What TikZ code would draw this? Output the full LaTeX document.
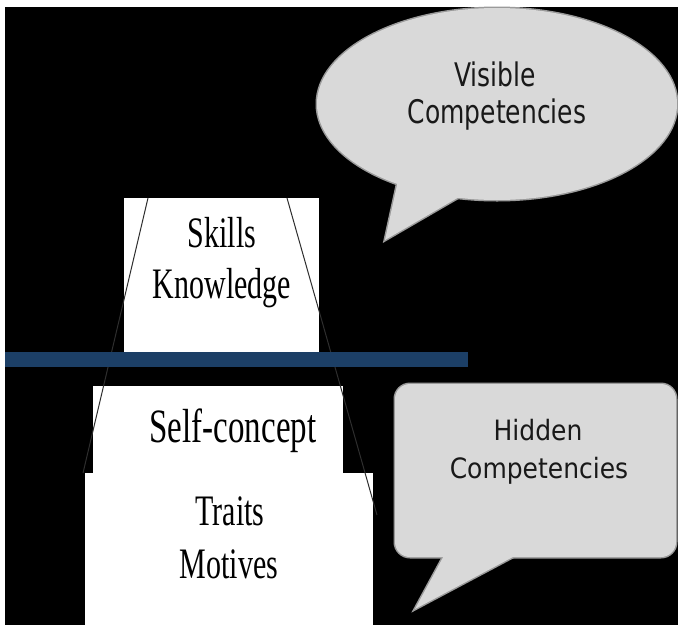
\documentclass[tikz,border=0pt]{standalone}
\usepackage{fontspec}
\setmainfont{Liberation Serif}
\newfontfamily\bubblefont{DejaVu Sans}
\definecolor{barblue}{HTML}{1C3F66}
\definecolor{bubgray}{HTML}{D9D9D9}
\definecolor{bubline}{HTML}{9A9A9A}
\begin{document}
\begin{tikzpicture}[x=1pt,y=-1pt,
  serif/.style={anchor=base, inner sep=0pt, text=black, font=\fontsize{30}{36}\selectfont},
  serifbig/.style={serif, font=\fontsize{33}{40}\selectfont},
  bubtext/.style={anchor=base, inner sep=0pt, text=black!90, font=\bubblefont\fontsize{25}{30}\selectfont},
  edgeline/.style={draw=black!82, line width=1pt},
  bubedge/.style={draw=bubline, line width=3pt},
  bubfill/.style={fill=bubgray},
  paper/.style={fill=white}]
\useasboundingbox (0,0) rectangle (678,625);
\fill[white] (0,0) rectangle (678,625);
\fill[black] (5,7) rectangle (678,625);

% white boxes
\fill[paper] (124,198) rectangle (319,353);
\fill[paper] (93,386) rectangle (343,474);
\fill[paper] (85,473) rectangle (373,625);

% pyramid sides
\coordinate (lt) at (148,198);
\coordinate (lb) at (83,473);
\coordinate (rt) at (287,198);
\coordinate (rb) at (377,515);
\draw[edgeline] (lt) -- (lb);
\draw[edgeline] (rt) -- (rb);

% water line
\fill[barblue] (5,352) rectangle (468,367);

% visible bubble
\draw[bubedge] (497,104) ellipse[x radius=180, y radius=96];
\draw[bubedge] (385,240) -- (399,176) -- (466,193) -- cycle;
\fill[bubfill] (497,104) ellipse[x radius=180, y radius=96];
\fill[bubfill] (385,240) -- (399,176) -- (466,193) -- cycle;

% hidden bubble
\draw[bubedge, rounded corners=15] (395,384) rectangle (676,557);
\draw[bubedge] (415,609) -- (447,550) -- (526,550) -- cycle;
\fill[bubfill, rounded corners=15] (395,384) rectangle (676,557);
\fill[bubfill] (415,609) -- (447,550) -- (526,550) -- cycle;

% texts
\node[serif] (skills) at (222,247) {\scalebox{1}[1.45]{Skills}};
\node[serif] (knowledge) at (222,298) {\scalebox{1}[1.45]{Knowledge}};
\node[serifbig] (self) at (233,442) {\scalebox{1}[1.45]{Self-concept}};
\node[serif] (traits) at (230,525) {\scalebox{1}[1.45]{Traits}};
\node[serif] (motives) at (229,578) {\scalebox{1}[1.45]{Motives}};

\node[bubtext] (vis1) at (495,86) {\scalebox{1}[1.3]{Visible}};
\node[bubtext] (vis2) at (497,123) {\scalebox{1}[1.3]{Competencies}};
\node[bubtext] (hid1) at (538,440) {\scalebox{1}[1.12]{Hidden}};
\node[bubtext] (hid2) at (539,478) {\scalebox{1}[1.12]{Competencies}};
\end{tikzpicture}
\end{document}
